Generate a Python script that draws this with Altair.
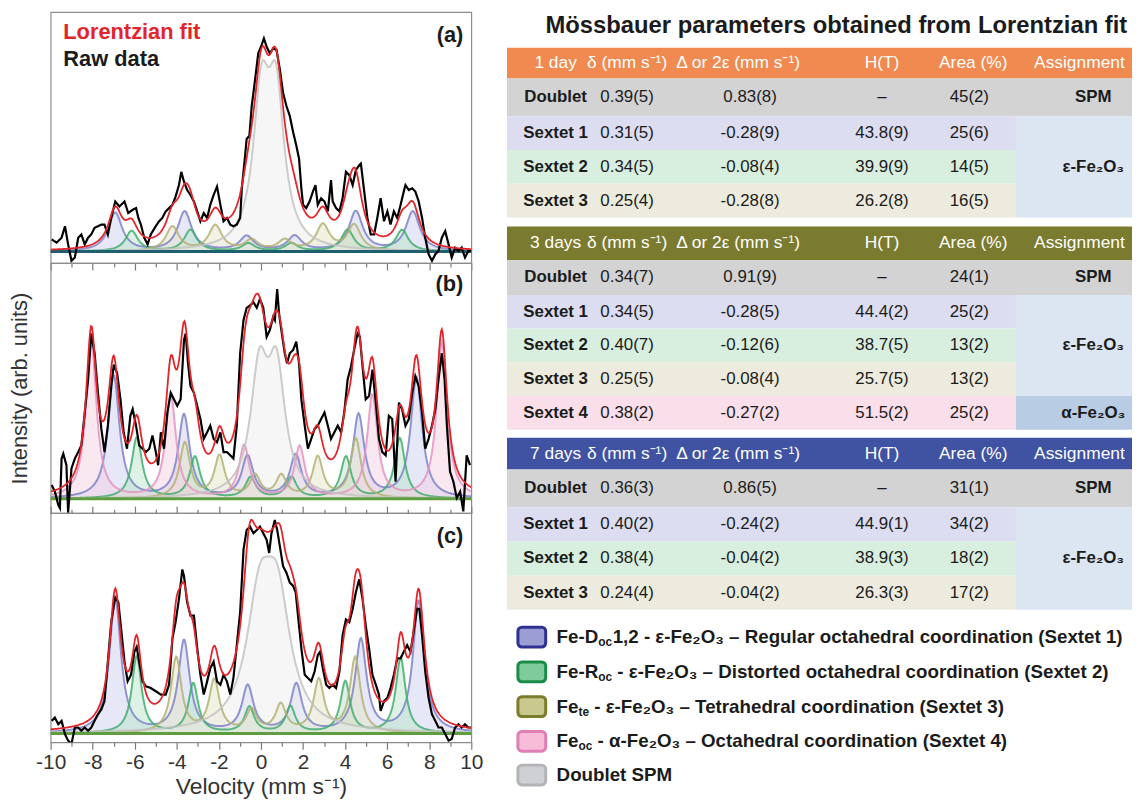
import altair as alt
import numpy as np
import pandas as pd

FONT = "Liberation Sans, Arial, Helvetica, sans-serif"
INK = "#1b1b1b"

# ---------------- raw spectra (velocity mm/s, intensity arb. units) ----------------
raw_a_v = [-9.95, -9.72, -9.48, -9.32, -9.17, -9.01, -8.85, -8.69, -8.54, -8.38,
           -8.22, -8.07, -7.91, -7.75, -7.59, -7.44, -7.28, -7.12, -6.93, -6.73,
           -6.49, -6.31, -6.10, -5.94, -5.83, -5.71, -5.55, -5.39, -5.24, -5.00,
           -4.84, -4.69, -4.53, -4.37, -4.21, -4.06, -3.90, -3.79, -3.66, -3.51,
           -3.35, -3.19, -3.03, -2.88, -2.72, -2.56, -2.41, -2.25, -2.09, -1.93,
           -1.78, -1.62, -1.46, -1.31, -1.15, -0.99, -0.91, -0.80, -0.68, -0.55,
           -0.44, -0.28, -0.13, 0.03, 0.14, 0.27, 0.42, 0.58, 0.74, 0.90,
           1.05, 1.21, 1.37, 1.53, 1.68, 1.81, 1.92, 2.00, 2.15, 2.31,
           2.47, 2.59, 2.70, 2.86, 3.02, 3.18, 3.33, 3.41, 3.57, 3.73,
           3.88, 4.04, 4.20, 4.36, 4.51, 4.67, 4.75, 4.91, 5.06, 5.22,
           5.38, 5.53, 5.69, 5.85, 6.01, 6.16, 6.32, 6.48, 6.64, 6.79,
           6.87, 7.03, 7.19, 7.34, 7.50, 7.66, 7.81, 7.97, 8.13, 8.29,
           8.44, 8.60, 8.76, 8.92, 9.07, 9.23, 9.39, 9.54, 9.70, 9.86,
           10.0]
raw_a_i = [12.3, 9.0, 14.0, 25.7, 7.3, -9.3, -6.0, 14.0, 17.3, 7.3,
           14.0, 17.3, 24.0, 25.7, 27.3, 27.3, 17.3, 34.0, 50.7, 45.7,
           50.7, 39.0, 42.3, 44.0, 34.0, 27.3, 14.0, 7.3, 17.3, 25.7,
           30.7, 34.0, 40.7, 44.0, 47.3, 55.7, 67.3, 80.7, 70.7, 62.3,
           57.3, 50.7, 40.7, 30.7, 39.0, 34.0, 47.3, 57.3, 65.7, 47.3,
           30.7, 34.0, 27.3, 25.7, 27.3, 34.0, 64.0, 87.3, 114.0, 117.3,
           147.3, 174.0, 200.7, 209.0, 215.7, 207.3, 200.7, 205.7, 204.0, 184.0,
           160.7, 147.3, 137.3, 120.7, 107.3, 94.0, 64.0, 47.3, 44.0, 50.7,
           60.7, 67.3, 47.3, 54.0, 50.7, 40.7, 72.3, 50.7, 44.0, 40.7,
           54.0, 80.7, 77.3, 67.3, 82.3, 87.3, 89.0, 60.7, 34.0, 17.3,
           17.3, 34.0, 54.0, 30.7, 40.7, 27.3, 40.7, 34.0, 47.3, 60.7,
           67.3, 62.3, 64.0, 60.7, 50.7, 34.0, 14.0, -2.7, -9.3, -2.7,
           0.7, 14.0, 20.7, 7.3, -6.0, 4.0, 0.7, 4.0, -6.0, 0.7,
           0.7]

raw_b_v = [-9.95, -9.80, -9.64, -9.56, -9.48, -9.40, -9.25, -9.17, -9.01, -8.85,
           -8.69, -8.54, -8.38, -8.22, -8.07, -7.91, -7.75, -7.59, -7.44, -7.28,
           -7.12, -7.00, -6.84, -6.68, -6.53, -6.37, -6.21, -6.10, -5.94, -5.79,
           -5.63, -5.47, -5.31, -5.16, -5.00, -4.89, -4.76, -4.61, -4.45, -4.29,
           -4.14, -3.98, -3.82, -3.66, -3.58, -3.47, -3.35, -3.19, -3.03, -2.88,
           -2.72, -2.56, -2.41, -2.25, -2.09, -1.93, -1.78, -1.62, -1.46, -1.31,
           -1.15, -0.99, -0.83, -0.68, -0.52, -0.36, -0.20, -0.05, 0.11, 0.27,
           0.42, 0.58, 0.66, 0.77, 0.86, 0.97, 1.13, 1.24, 1.37, 1.53,
           1.68, 1.81, 1.92, 2.08, 2.23, 2.39, 2.55, 2.70, 2.86, 3.02,
           3.18, 3.33, 3.49, 3.65, 3.81, 3.96, 4.12, 4.28, 4.43, 4.59,
           4.70, 4.83, 4.98, 5.14, 5.30, 5.46, 5.61, 5.77, 5.93, 6.08,
           6.24, 6.40, 6.56, 6.71, 6.87, 7.03, 7.19, 7.34, 7.50, 7.66,
           7.81, 7.97, 8.13, 8.29, 8.44, 8.60, 8.73, 8.84, 8.99, 9.15,
           9.31, 9.47, 9.62, 9.78, 9.94]
raw_b_i = [14.0, 7.3, -6.0, -9.3, 40.7, 45.7, 34.0, -14.0, 30.7, 40.7,
           47.3, 54.0, 87.0, 120.7, 167.3, 147.3, 107.3, 70.7, 47.3, 74.0,
           114.0, 135.7, 127.3, 100.7, 67.3, 50.7, 84.0, 90.7, 74.0, 54.0,
           50.7, 47.3, 50.7, 64.0, 47.3, 34.0, 67.3, 50.7, 87.3, 107.3,
           100.7, 94.0, 100.7, 160.7, 167.3, 137.3, 114.0, 107.3, 94.0, 80.7,
           60.7, 67.3, 74.0, 60.7, 57.3, 67.3, 47.3, 47.3, 44.0, 40.7,
           74.0, 147.3, 180.7, 193.3, 195.7, 199.0, 193.3, 202.3, 193.3, 164.0,
           170.7, 184.0, 180.7, 212.3, 187.3, 170.7, 147.3, 137.3, 147.3, 150.7,
           159.0, 137.3, 100.7, 74.0, 50.7, 60.7, 70.7, 74.0, 80.7, 87.3,
           74.0, 60.7, 67.3, 74.0, 67.3, 87.3, 120.7, 134.0, 150.7, 167.3,
           164.0, 134.0, 100.7, 104.0, 130.7, 97.3, 60.7, 47.3, 44.0, 84.0,
           80.7, 17.3, 97.3, 90.7, 74.0, 80.7, 107.3, 124.0, 114.0, 87.3,
           50.7, 60.7, 74.0, 90.7, 120.7, 147.3, 120.7, 74.0, 27.3, 17.3,
           0.7, 7.3, -12.7, 44.0, 34.0]

raw_c_v = [-9.95, -9.80, -9.64, -9.48, -9.32, -9.17, -9.01, -8.85, -8.69, -8.54,
           -8.38, -8.22, -8.07, -7.91, -7.75, -7.59, -7.44, -7.28, -7.12, -6.93,
           -6.78, -6.65, -6.49, -6.34, -6.18, -6.02, -5.91, -5.79, -5.63, -5.47,
           -5.24, -5.00, -4.76, -4.53, -4.37, -4.21, -4.06, -3.90, -3.74, -3.66,
           -3.51, -3.35, -3.19, -3.03, -2.88, -2.72, -2.56, -2.41, -2.25, -2.09,
           -1.93, -1.78, -1.62, -1.46, -1.31, -1.15, -0.99, -0.83, -0.68, -0.52,
           -0.36, -0.20, -0.05, 0.11, 0.27, 0.39, 0.50, 0.66, 0.77, 0.90,
           1.05, 1.21, 1.37, 1.53, 1.65, 1.76, 1.92, 2.08, 2.23, 2.39,
           2.55, 2.70, 2.81, 2.94, 3.10, 3.25, 3.41, 3.57, 3.73, 3.88,
           4.04, 4.20, 4.36, 4.51, 4.67, 4.83, 4.98, 5.14, 5.30, 5.46,
           5.61, 5.69, 5.85, 6.01, 6.16, 6.32, 6.48, 6.64, 6.79, 6.95,
           7.11, 7.26, 7.42, 7.53, 7.66, 7.81, 7.97, 8.13, 8.29, 8.44,
           8.60, 8.76, 8.92, 9.07, 9.23, 9.39, 9.54, 9.70, 9.86, 10.0]
raw_c_i = [12.7, 16.0, 9.3, 12.7, -0.7, -7.3, -10.7, 6.0, 6.0, 2.7,
           6.0, 2.7, 6.0, 12.7, 19.3, 24.3, 32.7, 72.7, 112.7, 137.7,
           132.7, 106.0, 72.7, 52.7, 59.3, 82.7, 87.7, 72.7, 52.7, 47.7,
           46.0, 42.7, 39.3, 39.3, 49.3, 96.0, 112.7, 136.0, 166.0, 159.3,
           132.7, 119.3, 119.3, 86.0, 59.3, 39.3, 52.7, 66.0, 72.7, 52.7,
           49.3, 59.3, 52.7, 39.3, 56.0, 89.3, 122.7, 186.0, 206.0, 209.3,
           202.7, 206.0, 209.3, 202.7, 196.0, 182.7, 202.7, 216.0, 206.0, 189.3,
           169.3, 162.7, 152.7, 149.3, 142.7, 119.3, 86.0, 59.3, 56.0, 52.7,
           62.7, 79.3, 82.7, 66.0, 49.3, 46.0, 49.3, 46.0, 62.7, 99.3,
           115.3, 112.7, 126.0, 142.7, 156.0, 136.0, 109.3, 86.0, 59.3, 49.3,
           39.3, 22.7, 32.7, 36.0, 46.0, 59.3, 76.0, 76.0, 82.7, 89.3,
           82.7, 102.7, 126.0, 126.0, 99.3, 62.7, 36.0, 19.3, 12.7, 6.0,
           6.0, -0.7, -7.3, -5.7, 6.0, 9.3, 6.0, 9.3, 6.0, 6.0]

# ---------------- Lorentzian fit components ----------------
# line centres (mm/s), peak heights (arb. units); HWHM per component (mm/s)
a_sext1_pos = [-6.93, -3.63, -0.68, 1.60, 4.51, 7.22]
a_sext1_amp = [39, 40, 14.7, 15, 40, 40]
a_sext2_pos = [-6.15, -3.35, -0.60, 1.45, 4.12, 6.71]
a_sext2_amp = [20.7, 21.7, 8, 8, 21.7, 21.7]
a_sext3_pos = [-4.21, -2.17, -0.45, 1.13, 2.94, 4.43]
a_sext3_amp = [24.7, 25.7, 10.7, 10.7, 26.3, 26.3]
a_doub_pos = [0.02, 0.72]
a_doub_amp = [145, 145]
a_hwhm = [0.40, 0.36, 0.38, 0.47]

b_sext1_pos = [-7.00, -3.66, -0.64, 1.65, 4.64, 7.39]
b_sext1_amp = [124, 84, 42, 43, 84, 122]
b_sext2_pos = [-5.90, -3.14, -0.49, 1.45, 4.04, 6.60]
b_sext2_amp = [62, 42, 21, 21, 42, 61]
b_sext3_pos = [-3.62, -1.97, -0.28, 0.97, 2.70, 4.51]
b_sext3_amp = [56, 42, 22, 22, 41, 60]
b_sext4_pos = [-8.07, -4.29, -0.80, 1.84, 5.30, 8.60]
b_sext4_amp = [160, 104, 53, 52, 104, 158]
b_doub_pos = [-0.08, 0.74]
b_doub_amp = [120, 120]
b_hwhm = [0.33, 0.30, 0.30, 0.30, 0.50]

c_sext1_pos = [-6.93, -3.66, -0.63, 1.68, 4.75, 7.50]
c_sext1_amp = [136, 92.7, 46.7, 48.3, 93.7, 133.3]
c_sext2_pos = [-5.91, -3.22, -0.55, 1.40, 4.01, 6.64]
c_sext2_amp = [77.7, 50, 26, 26.7, 52, 76]
c_sext3_pos = [-4.03, -2.22, -0.45, 0.94, 2.75, 4.48]
c_sext3_amp = [76, 52.7, 22, 27.7, 52.7, 76]
c_doub_pos = [-0.07, 0.79]
c_doub_amp = [119, 119]
c_hwhm = [0.33, 0.28, 0.30, 0.75]

# ---------------- table values ----------------
days = ["1 day", "3 days", "7 days"]
head_cols = ["δ (mm s⁻¹)", "Δ or 2ε (mm s⁻¹)", "H(T)", "Area (%)", "Assignment"]

day1_rows = ["Doublet", "Sextet 1", "Sextet 2", "Sextet 3"]
day1_delta = ["0.39(5)", "0.31(5)", "0.34(5)", "0.25(4)"]
day1_quad = ["0.83(8)", "-0.28(9)", "-0.08(4)", "-0.28(8)"]
day1_field = ["–", "43.8(9)", "39.9(9)", "26.2(8)"]
day1_area = ["45(2)", "25(6)", "14(5)", "16(5)"]

day3_rows = ["Doublet", "Sextet 1", "Sextet 2", "Sextet 3", "Sextet 4"]
day3_delta = ["0.34(7)", "0.34(5)", "0.40(7)", "0.25(5)", "0.38(2)"]
day3_quad = ["0.91(9)", "-0.28(5)", "-0.12(6)", "-0.08(4)", "-0.27(2)"]
day3_field = ["–", "44.4(2)", "38.7(5)", "25.7(5)", "51.5(2)"]
day3_area = ["24(1)", "25(2)", "13(2)", "13(2)", "25(2)"]

day7_rows = ["Doublet", "Sextet 1", "Sextet 2", "Sextet 3"]
day7_delta = ["0.36(3)", "0.40(2)", "0.38(4)", "0.24(4)"]
day7_quad = ["0.86(5)", "-0.24(2)", "-0.04(2)", "-0.04(2)"]
day7_field = ["–", "44.9(1)", "38.9(3)", "26.3(3)"]
day7_area = ["31(1)", "34(2)", "18(2)", "17(2)"]

legend_runs = [
    ["Fe-D", "oc", "1,2 - ε-Fe₂O₃ – Regular octahedral coordination (Sextet 1)"],
    ["Fe-R", "oc", "- ε-Fe₂O₃ – Distorted octahedral coordination  (Sextet 2)"],
    ["Fe", "te", "- ε-Fe₂O₃ – Tetrahedral coordination (Sextet 3)"],
    ["Fe", "oc", "- α-Fe₂O₃ – Octahedral coordination (Sextet 4)"],
    ["Doublet SPM", "", ""],
]

# ---------------- styles ----------------
COMP_NAMES = ["Sextet 1", "Sextet 2", "Sextet 3", "Sextet 4", "Doublet"]
LINE_COLORS = ["#7d82c9", "#42ad70", "#b3b276", "#e394c1", "#c3c3c3"]
FILL_COLORS = ["#c7c9ee", "#b4e2c4", "#e3e3bf", "#f4cbe0", "#ececec"]
TICK_COLOR = "#7a7a7a"
X_TICKS = list(range(-10, 11))
TICK_SIZE = {"condition": {"test": "abs(datum.value) % 2 === 0", "value": 7}, "value": 4}
VGRID = np.linspace(-10.0, 10.0, 501)


def lorentz(pos, amp, w):
    y = np.zeros_like(VGRID)
    for c0, h in zip(pos, amp):
        y += h / (1.0 + ((VGRID - c0) / w) ** 2)
    return y


def spectrum_panel(components, raw_v, raw_i, ydom, height, tag, tag_y, base_color, which, notes=()):
    frames = []
    total = np.zeros_like(VGRID)
    for name, pos, amp, w in components:
        y = lorentz(pos, amp, w)
        total = total + y
        frames.append(pd.DataFrame({"v": VGRID, "val": y, "comp": name}))
    comp_df = pd.concat(frames, ignore_index=True)
    fit_df = pd.DataFrame({"v": VGRID, "val": total})
    raw_df = pd.DataFrame({"v": raw_v, "val": raw_i})

    xs = alt.Scale(domain=[-10, 10], nice=False, zero=False)
    ys = alt.Scale(domain=ydom, nice=False, zero=False)

    if which == "a":
        xaxis = alt.Axis(values=X_TICKS, labels=False, title=None, domain=False, grid=False,
                         tickSize=TICK_SIZE, tickColor=TICK_COLOR, tickWidth=1.2)
    else:
        xaxis = None
    if which == "b":
        yaxis = alt.Axis(title="Intensity (arb. units)", labels=False, ticks=False, domain=False,
                         grid=False, titleFontSize=22, titleFontWeight="normal",
                         titleColor="#333333", titlePadding=19)
    else:
        yaxis = None

    X = alt.X("v:Q", scale=xs, axis=xaxis)
    Y = alt.Y("val:Q", scale=ys, axis=yaxis, stack=None)

    fill_scale = alt.Scale(domain=COMP_NAMES, range=FILL_COLORS)
    line_scale = alt.Scale(domain=COMP_NAMES, range=LINE_COLORS)

    areas = alt.Chart(comp_df).mark_area(opacity=0.45, clip=True).encode(
        x=X, y=Y, y2=alt.datum(0), fill=alt.Fill("comp:N", scale=fill_scale, legend=None))
    lines = alt.Chart(comp_df).mark_line(strokeWidth=2, opacity=0.85, clip=True).encode(
        x=X, y=Y, stroke=alt.Stroke("comp:N", scale=line_scale, legend=None))
    base = alt.Chart(pd.DataFrame({"val": [0.0]})).mark_rule(color=base_color, strokeWidth=3).encode(y=Y)

    if which == "c":
        x_bottom = alt.X("v:Q", scale=xs, axis=alt.Axis(
            values=X_TICKS, labelExpr="abs(datum.value) % 2 === 0 ? '' + datum.value : ''",
            title="Velocity (mm s⁻¹)", domain=False, grid=False, tickSize=TICK_SIZE,
            tickColor=TICK_COLOR, tickWidth=1.2, labelFontSize=21, labelColor="#333333",
            labelPadding=2, labelFlush=False, labelOverlap=False, titleFontSize=23,
            titleFontWeight="normal", titleColor="#333333", titlePadding=4))
    else:
        x_bottom = X
    raw = alt.Chart(raw_df).mark_line(color="#000000", strokeWidth=2.2, clip=True).encode(x=x_bottom, y=Y)
    fit = alt.Chart(fit_df).mark_line(color="#e3242b", strokeWidth=1.8, clip=True).encode(x=X, y=Y)
    tags = alt.Chart(pd.DataFrame({"v": [9.62], "val": [tag_y], "t": [tag]})).mark_text(
        align="right", baseline="middle", fontSize=22, fontWeight="bold", color=INK).encode(
        x=X, y=Y, text="t:N")
    layers = [areas, lines, base, raw, fit, tags]
    for text, v0, val0, col in notes:
        layers.append(alt.Chart(pd.DataFrame({"v": [v0], "val": [val0], "t": [text]})).mark_text(
            align="left", baseline="middle", fontSize=22, fontWeight="bold", color=col).encode(
            x=X, y=Y, text="t:N"))
    if which == "c":
        ghost = alt.Chart(raw_df).mark_point(opacity=0, clip=True).encode(
            x=alt.X("v:Q", scale=xs, axis=alt.Axis(orient="top", values=X_TICKS, labels=False,
                                                   title=None, domain=False, grid=False,
                                                   tickSize=TICK_SIZE, tickColor=TICK_COLOR,
                                                   tickWidth=1.2)),
            y=Y)
        layers.append(ghost)
    chart = alt.layer(*layers).properties(
        width=424, height=height, view=alt.ViewBackground(stroke="#8c8c8c", strokeWidth=1.2))
    if which == "c":
        chart = chart.resolve_axis(x="independent")
    return chart


panel_a = spectrum_panel(
    [("Sextet 1", a_sext1_pos, a_sext1_amp, a_hwhm[0]),
     ("Sextet 2", a_sext2_pos, a_sext2_amp, a_hwhm[1]),
     ("Sextet 3", a_sext3_pos, a_sext3_amp, a_hwhm[2]),
     ("Doublet", a_doub_pos, a_doub_amp, a_hwhm[3])],
    raw_a_v, raw_a_i, [-11.7, 242.3], 253, "(a)", 219, "#1f6070", "a",
    notes=[("Lorentzian fit", -9.4, 222, "#e3242b"), ("Raw data", -9.4, 195, INK)])

panel_b = spectrum_panel(
    [("Sextet 1", b_sext1_pos, b_sext1_amp, b_hwhm[0]),
     ("Sextet 2", b_sext2_pos, b_sext2_amp, b_hwhm[1]),
     ("Sextet 3", b_sext3_pos, b_sext3_amp, b_hwhm[2]),
     ("Sextet 4", b_sext4_pos, b_sext4_amp, b_hwhm[3]),
     ("Doublet", b_doub_pos, b_doub_amp, b_hwhm[4])],
    raw_b_v, raw_b_i, [-14.5, 238.5], 252, "(b)", 217, "#5f9e3f", "b")

panel_c = spectrum_panel(
    [("Sextet 1", c_sext1_pos, c_sext1_amp, c_hwhm[0]),
     ("Sextet 2", c_sext2_pos, c_sext2_amp, c_hwhm[1]),
     ("Sextet 3", c_sext3_pos, c_sext3_amp, c_hwhm[2]),
     ("Doublet", c_doub_pos, c_doub_amp, c_hwhm[3])],
    raw_c_v, raw_c_i, [-9.0, 223.0], 231, "(c)", 200, "#5f9e3f", "c")

# ---------------- right side: table + legend (layout units = pixels of the panel) ----------------
W_R, H_R = 630, 790
rx = alt.Scale(domain=[0, W_R], nice=False, zero=False)
ry = alt.Scale(domain=[0, H_R], nice=False, zero=False, reverse=True)

ASSIGN_X0 = 513
head_x = [121, 233, 378, 470, 577]
val_x = [121, 245, 378, 466]
LABEL_X, ASSIGN_X = 49, 591
block_top = [36, 216, 429]
head_h = [31, 34, 32]
doub_h = [38, 35, 38]
sext_h = [34, 34, 34.5]
TXT_FS, HEAD_FS = 17, 17.5
header_fill = ["#F08A50", "#7A7B2E", "#4052A2"]
row_fill = {"Doublet": "#D3D3D3", "Sextet 1": "#DCDDF0", "Sextet 2": "#D8EEDF",
            "Sextet 3": "#ECEBDD", "Sextet 4": "#FADFEA"}

cells, t_white, t_bold, t_reg = [], [], [], []
blocks = [(day1_rows, day1_delta, day1_quad, day1_field, day1_area),
          (day3_rows, day3_delta, day3_quad, day3_field, day3_area),
          (day7_rows, day7_delta, day7_quad, day7_field, day7_area)]
for b, (rows, dl, qd, fd, ar) in enumerate(blocks):
    y = block_top[b]
    hh = head_h[b]
    cells.append(dict(x0=0, x1=W_R, y0=y, y1=y + hh, fill=header_fill[b]))
    t_white.append(dict(x=LABEL_X, y=y + hh / 2, t=days[b]))
    for hx, ht in zip(head_x, head_cols):
        t_white.append(dict(x=hx, y=y + hh / 2, t=ht))
    y += hh
    eps_top, eps_bot = None, None
    for i, r in enumerate(rows):
        hgt = doub_h[b] if r == "Doublet" else sext_h[b]
        yc = y + hgt / 2
        if r == "Doublet":
            cells.append(dict(x0=0, x1=W_R, y0=y, y1=y + hgt, fill=row_fill[r]))
            t_bold.append(dict(x=ASSIGN_X, y=yc, t="SPM"))
        else:
            cells.append(dict(x0=0, x1=ASSIGN_X0, y0=y, y1=y + hgt, fill=row_fill[r]))
            if r == "Sextet 4":
                cells.append(dict(x0=ASSIGN_X0, x1=W_R, y0=y, y1=y + hgt, fill="#B8CCE4"))
                t_bold.append(dict(x=ASSIGN_X, y=yc, t="α-Fe₂O₃"))
            else:
                eps_top = y if eps_top is None else eps_top
                eps_bot = y + hgt
        t_bold.append(dict(x=LABEL_X, y=yc, t=r))
        for vx, vt in zip(val_x, [dl[i], qd[i], fd[i], ar[i]]):
            t_reg.append(dict(x=vx, y=yc, t=vt))
        y += hgt
    cells.append(dict(x0=ASSIGN_X0, x1=W_R, y0=eps_top, y1=eps_bot, fill="#DCE6F2"))
    t_bold.append(dict(x=ASSIGN_X, y=(eps_top + eps_bot) / 2, t="ε-Fe₂O₃"))

RX = alt.X("x:Q", scale=rx, axis=None)
RY = alt.Y("y:Q", scale=ry, axis=None)


def text_layer(rows, size, weight, color, align="center", dy=0):
    return alt.Chart(pd.DataFrame(rows)).mark_text(
        fontSize=size, fontWeight=weight, color=color, align=align, baseline="middle",
        clip=True, dy=dy).encode(x=RX, y=RY, text="t:N")


cell_layer = alt.Chart(pd.DataFrame(cells)).mark_rect(clip=True).encode(
    x=alt.X("x0:Q", scale=rx, axis=None), x2="x1:Q",
    y=alt.Y("y0:Q", scale=ry, axis=None), y2="y1:Q",
    fill=alt.Fill("fill:N", scale=None))

# legend
LEG_Y = [630, 665, 700, 735, 769]
SW_X0, SW_X1, SW_H = 11, 39, 20
LEG_TX, LEG_FS, SUB_FS = 50, 18.9, 12
sw_fill = ["#9b9dd3", "#7fcb9b", "#c9c98f", "#f6bcd8", "#cfd0d4"]
sw_stroke = ["#2e3192", "#1a8c4a", "#7b7d2a", "#e07fb4", "#b3b4b8"]
AB = {" ": 278, "-": 333, "F": 611, "e": 556, "D": 722, "R": 722, "o": 611, "c": 556, "t": 333}


def bold_w(s, size):
    return sum(AB.get(ch, 556) for ch in s) * size / 1000.0


swatches, leg_main, leg_sub = [], [], []
for k, (head, sub, tail) in enumerate(legend_runs):
    yc = LEG_Y[k]
    swatches.append(dict(x0=SW_X0, x1=SW_X1, y0=yc - SW_H / 2, y1=yc + SW_H / 2,
                         fill=sw_fill[k], stroke=sw_stroke[k]))
    leg_main.append(dict(x=LEG_TX, y=yc, t=head))
    if sub:
        sx = LEG_TX + bold_w(head, LEG_FS)
        leg_sub.append(dict(x=sx, y=yc + 5, t=sub))
        tx = sx + bold_w(sub, SUB_FS) + (0.5 if tail[0] != "-" else bold_w(" ", LEG_FS))
        leg_main.append(dict(x=tx, y=yc, t=tail))

swatch_layer = alt.Chart(pd.DataFrame(swatches)).mark_rect(cornerRadius=4, strokeWidth=3, clip=True).encode(
    x=alt.X("x0:Q", scale=rx, axis=None), x2="x1:Q",
    y=alt.Y("y0:Q", scale=ry, axis=None), y2="y1:Q",
    fill=alt.Fill("fill:N", scale=None), stroke=alt.Stroke("stroke:N", scale=None))

right = alt.layer(
    cell_layer,
    text_layer([dict(x=332, y=14, t="Mössbauer parameters obtained from Lorentzian fit")], 24, "bold", INK),
    text_layer(t_white, HEAD_FS, "normal", "#ffffff"),
    text_layer(t_bold, TXT_FS, "bold", INK),
    text_layer(t_reg, TXT_FS, "normal", INK),
    swatch_layer,
    text_layer(leg_main, LEG_FS, "bold", INK, align="left"),
    text_layer(leg_sub, SUB_FS, "bold", INK, align="left"),
).properties(width=W_R, height=H_R)

left = alt.vconcat(panel_a, panel_b, panel_c, spacing=0, bounds="flush")
chart = alt.hconcat(left, right, spacing=23).properties(padding=0).configure(
    font=FONT).configure_view(strokeWidth=0)

chart.save("out.html", embed_options={"renderer": "svg", "actions": False})
